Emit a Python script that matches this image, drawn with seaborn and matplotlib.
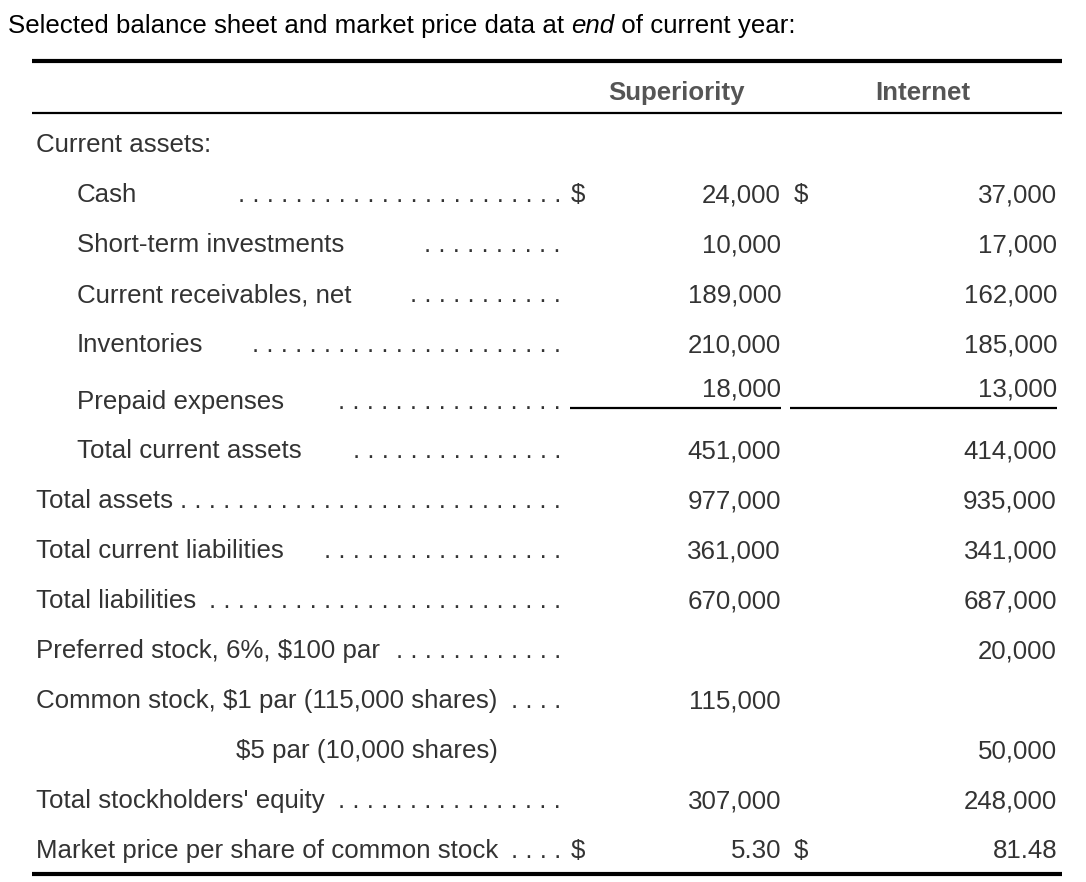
import matplotlib
matplotlib.use("Agg")
import matplotlib.pyplot as plt
import numpy as np
import seaborn as sns

# table content
TITLE_PARTS = ["Selected balance sheet and market price data at ", "end", " of current year:"]
COLUMNS = ["Superiority", "Internet"]
SECTION = "Current assets:"
ROW_LABELS = [
    "Cash",
    "Short-term investments",
    "Current receivables, net",
    "Inventories",
    "Prepaid expenses",
    "Total current assets",
    "Total assets",
    "Total current liabilities",
    "Total liabilities",
    "Preferred stock, 6%, $100 par",
    "Common stock, $1 par (115,000 shares)",
    "$5 par (10,000 shares)",
    "Total stockholders' equity",
    "Market price per share of common stock",
]
SUPERIORITY = [24000, 10000, 189000, 210000, 18000, 451000, 977000, 361000, 670000,
               np.nan, 115000, np.nan, 307000, 5.30]
INTERNET = [37000, 17000, 162000, 185000, 13000, 414000, 935000, 341000, 687000,
            20000, np.nan, 50000, 248000, 81.48]
DOLLAR_ROWS = ["Cash", "Market price per share of common stock"]

# layout (pixels, figure is 1086 x 882)
W, H = 1086, 882
ROW_Y = [195, 245, 295, 345, 395, 451, 501, 551, 601, 651, 701, 751, 801, 851]
LABEL_X = [77, 77, 77, 77, 77, 77, 36, 36, 36, 36, 36, 236, 36, 36]
LEADER_START = [240, 428, 410, 255, 342, 355, 183, 325, 210, 400, 515, None, 345, 515]
LAST_DOT = 557
DOT_STEP = 14.2
SUP_RIGHT, INT_RIGHT = 781, 1057
TXT = "#333333"

sns.set_theme(style="white")
plt.rcParams["font.family"] = ["Liberation Sans", "DejaVu Sans"]
FS = 18.6


def fmt(v):
    if np.isnan(v):
        return ""
    if v != int(v):
        return f"{v:.2f}"
    return f"{int(v):,}"


fig = plt.figure(figsize=(W / 100, H / 100), dpi=100)
ax = fig.add_axes([0, 0, 1, 1])
ax.set_xlim(0, W)
ax.set_ylim(H, 0)
ax.axis("off")

# title with italic "end"
prev = ax.text(8, 26, TITLE_PARTS[0], fontsize=FS, color="black", va="center", parse_math=False)
for i, part in enumerate(TITLE_PARTS[1:]):
    prev = ax.annotate(part, xy=(1, 0), xycoords=prev, va="bottom", ha="left", fontsize=FS,
                       color="black", style="italic" if i == 0 else "normal")

# rules
ax.plot([32, 1062], [61, 61], color="black", lw=3.0, solid_capstyle="butt")
ax.plot([32, 1062], [113, 113], color="black", lw=1.6, solid_capstyle="butt")
ax.plot([32, 1062], [874, 874], color="black", lw=3.0, solid_capstyle="butt")

# header
ax.text(676, 93, COLUMNS[0], fontsize=FS, fontweight="bold", color="#555555", ha="center", va="center")
ax.text(923, 93, COLUMNS[1], fontsize=FS, fontweight="bold", color="#555555", ha="center", va="center")
ax.text(36, 145, SECTION, fontsize=FS, color=TXT, va="center")

for i, label in enumerate(ROW_LABELS):
    y = ROW_Y[i]
    label_y = y + 7 if label == "Prepaid expenses" else y
    val_y = y - 6 if label == "Prepaid expenses" else y
    ax.text(LABEL_X[i], label_y, label, fontsize=FS, color=TXT, va="center", parse_math=False)
    if LEADER_START[i] is not None:
        n = int(round((LAST_DOT - LEADER_START[i]) / DOT_STEP)) + 1
        ax.text(LAST_DOT + 4, label_y, " ".join(["."] * n), fontsize=FS, color=TXT,
                ha="right", va="center")
    ax.text(SUP_RIGHT, val_y, fmt(SUPERIORITY[i]), fontsize=FS, color=TXT, ha="right", va="center")
    ax.text(INT_RIGHT, val_y, fmt(INTERNET[i]), fontsize=FS, color=TXT, ha="right", va="center")
    if label in DOLLAR_ROWS:
        ax.text(578, y, "$", fontsize=FS, color=TXT, ha="center", va="center", parse_math=False)
        ax.text(801, y, "$", fontsize=FS, color=TXT, ha="center", va="center", parse_math=False)
    if label == "Prepaid expenses":
        ax.plot([570, 781], [408, 408], color="black", lw=1.6, solid_capstyle="butt")
        ax.plot([790, 1057], [408, 408], color="black", lw=1.6, solid_capstyle="butt")

fig.savefig("out.png", dpi=100)
